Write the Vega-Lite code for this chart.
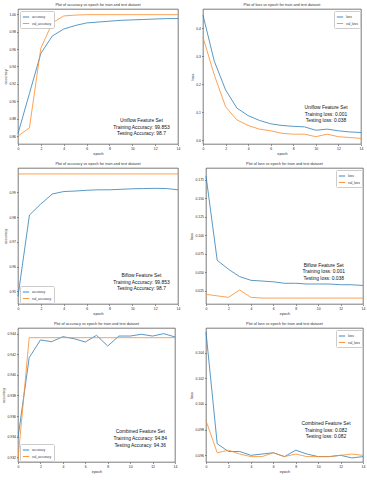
{
  "$schema": "https://vega.github.io/schema/vega-lite/v6.json",
  "padding": {"left": 1, "top": 2, "right": 3, "bottom": 1},
  "background": "white",
  "columns": 2,
  "align": "none",
  "spacing": {"row": 5, "column": 8},
  "resolve": {"scale": {"color": "independent", "x": "independent", "y": "independent"}, "legend": {"color": "independent"}},
  "config": {
    "font": "Liberation Sans, Arial, sans-serif",
    "view": {"stroke": "#444444", "strokeWidth": 0.7},
    "axis": {"grid": false, "domain": false, "labelFont": "Liberation Sans, Arial, sans-serif", "titleFont": "Liberation Sans, Arial, sans-serif", "labelFontSize": 3.4, "titleFontSize": 3.8, "titleFontWeight": "normal", "tickSize": 1.5, "tickWidth": 0.6, "tickColor": "#444444", "labelColor": "#222222", "titleColor": "#333333", "labelPadding": 1, "titlePadding": 1.5, "labelFlush": false, "labelOverlap": false},
    "title": {"font": "Liberation Sans, Arial, sans-serif", "fontSize": 3.8, "fontWeight": "normal", "offset": 2, "color": "#333333"},
    "legend": {"labelFont": "Liberation Sans, Arial, sans-serif", "symbolType": "stroke", "symbolSize": 40, "symbolStrokeWidth": 0.9, "labelFontSize": 3.3, "padding": 2, "rowPadding": 0.5, "strokeColor": "#cccccc", "fillColor": "white", "offset": 1.5, "labelOffset": 2, "cornerRadius": 1, "labelColor": "#333333"}
  },
  "datasets": {
    "uniflow_acc": [
      {"epoch": 0, "series": "accuracy", "value": 0.863}, {"epoch": 1, "series": "accuracy", "value": 0.909}, {"epoch": 2, "series": "accuracy", "value": 0.955}, {"epoch": 3, "series": "accuracy", "value": 0.975}, {"epoch": 4, "series": "accuracy", "value": 0.983}, {"epoch": 5, "series": "accuracy", "value": 0.987}, {"epoch": 6, "series": "accuracy", "value": 0.990}, {"epoch": 7, "series": "accuracy", "value": 0.991}, {"epoch": 8, "series": "accuracy", "value": 0.992}, {"epoch": 9, "series": "accuracy", "value": 0.993}, {"epoch": 10, "series": "accuracy", "value": 0.9935}, {"epoch": 11, "series": "accuracy", "value": 0.994}, {"epoch": 12, "series": "accuracy", "value": 0.9945}, {"epoch": 13, "series": "accuracy", "value": 0.995}, {"epoch": 14, "series": "accuracy", "value": 0.995},
      {"epoch": 0, "series": "val_accuracy", "value": 0.860}, {"epoch": 1, "series": "val_accuracy", "value": 0.8696}, {"epoch": 2, "series": "val_accuracy", "value": 0.961}, {"epoch": 3, "series": "val_accuracy", "value": 0.990}, {"epoch": 4, "series": "val_accuracy", "value": 0.998}, {"epoch": 5, "series": "val_accuracy", "value": 0.999}, {"epoch": 6, "series": "val_accuracy", "value": 0.9995}, {"epoch": 7, "series": "val_accuracy", "value": 0.9995}, {"epoch": 8, "series": "val_accuracy", "value": 0.9995}, {"epoch": 9, "series": "val_accuracy", "value": 0.9995}, {"epoch": 10, "series": "val_accuracy", "value": 0.9995}, {"epoch": 11, "series": "val_accuracy", "value": 0.9995}, {"epoch": 12, "series": "val_accuracy", "value": 0.9995}, {"epoch": 13, "series": "val_accuracy", "value": 0.9995}, {"epoch": 14, "series": "val_accuracy", "value": 0.9995}
    ],
    "uniflow_loss": [
      {"epoch": 0, "series": "loss", "value": 0.446}, {"epoch": 1, "series": "loss", "value": 0.282}, {"epoch": 2, "series": "loss", "value": 0.18}, {"epoch": 3, "series": "loss", "value": 0.115}, {"epoch": 4, "series": "loss", "value": 0.088}, {"epoch": 5, "series": "loss", "value": 0.071}, {"epoch": 6, "series": "loss", "value": 0.059}, {"epoch": 7, "series": "loss", "value": 0.053}, {"epoch": 8, "series": "loss", "value": 0.050}, {"epoch": 9, "series": "loss", "value": 0.048}, {"epoch": 10, "series": "loss", "value": 0.036}, {"epoch": 11, "series": "loss", "value": 0.040}, {"epoch": 12, "series": "loss", "value": 0.034}, {"epoch": 13, "series": "loss", "value": 0.030}, {"epoch": 14, "series": "loss", "value": 0.028},
      {"epoch": 0, "series": "val_loss", "value": 0.367}, {"epoch": 1, "series": "val_loss", "value": 0.233}, {"epoch": 2, "series": "val_loss", "value": 0.12}, {"epoch": 3, "series": "val_loss", "value": 0.073}, {"epoch": 4, "series": "val_loss", "value": 0.053}, {"epoch": 5, "series": "val_loss", "value": 0.040}, {"epoch": 6, "series": "val_loss", "value": 0.034}, {"epoch": 7, "series": "val_loss", "value": 0.025}, {"epoch": 8, "series": "val_loss", "value": 0.022}, {"epoch": 9, "series": "val_loss", "value": 0.022}, {"epoch": 10, "series": "val_loss", "value": 0.013}, {"epoch": 11, "series": "val_loss", "value": 0.022}, {"epoch": 12, "series": "val_loss", "value": 0.013}, {"epoch": 13, "series": "val_loss", "value": 0.010}, {"epoch": 14, "series": "val_loss", "value": 0.007}
    ],
    "biflow_acc": [
      {"epoch": 0, "series": "accuracy", "value": 0.948}, {"epoch": 1, "series": "accuracy", "value": 0.9808}, {"epoch": 2, "series": "accuracy", "value": 0.9853}, {"epoch": 3, "series": "accuracy", "value": 0.9893}, {"epoch": 4, "series": "accuracy", "value": 0.9903}, {"epoch": 5, "series": "accuracy", "value": 0.9905}, {"epoch": 6, "series": "accuracy", "value": 0.9908}, {"epoch": 7, "series": "accuracy", "value": 0.991}, {"epoch": 8, "series": "accuracy", "value": 0.991}, {"epoch": 9, "series": "accuracy", "value": 0.9912}, {"epoch": 10, "series": "accuracy", "value": 0.9914}, {"epoch": 11, "series": "accuracy", "value": 0.9915}, {"epoch": 12, "series": "accuracy", "value": 0.9916}, {"epoch": 13, "series": "accuracy", "value": 0.9915}, {"epoch": 14, "series": "accuracy", "value": 0.991},
      {"epoch": 0, "series": "val_accuracy", "value": 0.9974}, {"epoch": 1, "series": "val_accuracy", "value": 0.9974}, {"epoch": 2, "series": "val_accuracy", "value": 0.9974}, {"epoch": 3, "series": "val_accuracy", "value": 0.9974}, {"epoch": 4, "series": "val_accuracy", "value": 0.9974}, {"epoch": 5, "series": "val_accuracy", "value": 0.9974}, {"epoch": 6, "series": "val_accuracy", "value": 0.9974}, {"epoch": 7, "series": "val_accuracy", "value": 0.9974}, {"epoch": 8, "series": "val_accuracy", "value": 0.9974}, {"epoch": 9, "series": "val_accuracy", "value": 0.9974}, {"epoch": 10, "series": "val_accuracy", "value": 0.9974}, {"epoch": 11, "series": "val_accuracy", "value": 0.9974}, {"epoch": 12, "series": "val_accuracy", "value": 0.9974}, {"epoch": 13, "series": "val_accuracy", "value": 0.9974}, {"epoch": 14, "series": "val_accuracy", "value": 0.9974}
    ],
    "biflow_loss": [
      {"epoch": 0, "series": "loss", "value": 0.180}, {"epoch": 1, "series": "loss", "value": 0.066}, {"epoch": 2, "series": "loss", "value": 0.054}, {"epoch": 3, "series": "loss", "value": 0.044}, {"epoch": 4, "series": "loss", "value": 0.039}, {"epoch": 5, "series": "loss", "value": 0.038}, {"epoch": 6, "series": "loss", "value": 0.037}, {"epoch": 7, "series": "loss", "value": 0.035}, {"epoch": 8, "series": "loss", "value": 0.035}, {"epoch": 9, "series": "loss", "value": 0.034}, {"epoch": 10, "series": "loss", "value": 0.034}, {"epoch": 11, "series": "loss", "value": 0.034}, {"epoch": 12, "series": "loss", "value": 0.033}, {"epoch": 13, "series": "loss", "value": 0.033}, {"epoch": 14, "series": "loss", "value": 0.032},
      {"epoch": 0, "series": "val_loss", "value": 0.020}, {"epoch": 1, "series": "val_loss", "value": 0.018}, {"epoch": 2, "series": "val_loss", "value": 0.016}, {"epoch": 3, "series": "val_loss", "value": 0.026}, {"epoch": 4, "series": "val_loss", "value": 0.016}, {"epoch": 5, "series": "val_loss", "value": 0.015}, {"epoch": 6, "series": "val_loss", "value": 0.015}, {"epoch": 7, "series": "val_loss", "value": 0.015}, {"epoch": 8, "series": "val_loss", "value": 0.015}, {"epoch": 9, "series": "val_loss", "value": 0.015}, {"epoch": 10, "series": "val_loss", "value": 0.015}, {"epoch": 11, "series": "val_loss", "value": 0.015}, {"epoch": 12, "series": "val_loss", "value": 0.015}, {"epoch": 13, "series": "val_loss", "value": 0.015}, {"epoch": 14, "series": "val_loss", "value": 0.015}
    ],
    "combined_acc": [
      {"epoch": 0, "series": "accuracy", "value": 0.9339}, {"epoch": 1, "series": "accuracy", "value": 0.94167}, {"epoch": 2, "series": "accuracy", "value": 0.94339}, {"epoch": 3, "series": "accuracy", "value": 0.94322}, {"epoch": 4, "series": "accuracy", "value": 0.94371}, {"epoch": 5, "series": "accuracy", "value": 0.94351}, {"epoch": 6, "series": "accuracy", "value": 0.94319}, {"epoch": 7, "series": "accuracy", "value": 0.94384}, {"epoch": 8, "series": "accuracy", "value": 0.9428}, {"epoch": 9, "series": "accuracy", "value": 0.94377}, {"epoch": 10, "series": "accuracy", "value": 0.94377}, {"epoch": 11, "series": "accuracy", "value": 0.94394}, {"epoch": 12, "series": "accuracy", "value": 0.94377}, {"epoch": 13, "series": "accuracy", "value": 0.944}, {"epoch": 14, "series": "accuracy", "value": 0.94368},
      {"epoch": 0, "series": "val_accuracy", "value": 0.9318}, {"epoch": 1, "series": "val_accuracy", "value": 0.94361}, {"epoch": 2, "series": "val_accuracy", "value": 0.94361}, {"epoch": 3, "series": "val_accuracy", "value": 0.94361}, {"epoch": 4, "series": "val_accuracy", "value": 0.94361}, {"epoch": 5, "series": "val_accuracy", "value": 0.94361}, {"epoch": 6, "series": "val_accuracy", "value": 0.94361}, {"epoch": 7, "series": "val_accuracy", "value": 0.94361}, {"epoch": 8, "series": "val_accuracy", "value": 0.94361}, {"epoch": 9, "series": "val_accuracy", "value": 0.94361}, {"epoch": 10, "series": "val_accuracy", "value": 0.94361}, {"epoch": 11, "series": "val_accuracy", "value": 0.94361}, {"epoch": 12, "series": "val_accuracy", "value": 0.94361}, {"epoch": 13, "series": "val_accuracy", "value": 0.94361}, {"epoch": 14, "series": "val_accuracy", "value": 0.94361}
    ],
    "combined_loss": [
      {"epoch": 0, "series": "loss", "value": 0.1056}, {"epoch": 1, "series": "loss", "value": 0.0969}, {"epoch": 2, "series": "loss", "value": 0.0963}, {"epoch": 3, "series": "loss", "value": 0.0963}, {"epoch": 4, "series": "loss", "value": 0.0960}, {"epoch": 5, "series": "loss", "value": 0.0961}, {"epoch": 6, "series": "loss", "value": 0.0962}, {"epoch": 7, "series": "loss", "value": 0.0959}, {"epoch": 8, "series": "loss", "value": 0.0964}, {"epoch": 9, "series": "loss", "value": 0.0961}, {"epoch": 10, "series": "loss", "value": 0.0959}, {"epoch": 11, "series": "loss", "value": 0.0959}, {"epoch": 12, "series": "loss", "value": 0.0960}, {"epoch": 13, "series": "loss", "value": 0.0958}, {"epoch": 14, "series": "loss", "value": 0.0959},
      {"epoch": 0, "series": "val_loss", "value": 0.0987}, {"epoch": 1, "series": "val_loss", "value": 0.0962}, {"epoch": 2, "series": "val_loss", "value": 0.0964}, {"epoch": 3, "series": "val_loss", "value": 0.0961}, {"epoch": 4, "series": "val_loss", "value": 0.0959}, {"epoch": 5, "series": "val_loss", "value": 0.0959}, {"epoch": 6, "series": "val_loss", "value": 0.0962}, {"epoch": 7, "series": "val_loss", "value": 0.0959}, {"epoch": 8, "series": "val_loss", "value": 0.0961}, {"epoch": 9, "series": "val_loss", "value": 0.0959}, {"epoch": 10, "series": "val_loss", "value": 0.0959}, {"epoch": 11, "series": "val_loss", "value": 0.0959}, {"epoch": 12, "series": "val_loss", "value": 0.0960}, {"epoch": 13, "series": "val_loss", "value": 0.0961}, {"epoch": 14, "series": "val_loss", "value": 0.0960}
    ]
  },
  "concat": [
    {
      "width": 160, "height": 135,
      "title": "Plot of accuracy vs epoch for train and test dataset",
      "layer": [
        {"data": {"name": "uniflow_acc"}, "mark": {"type": "line", "strokeWidth": 0.8},
         "encoding": {
           "x": {"field": "epoch", "type": "quantitative", "scale": {"domain": [0, 14], "nice": false}, "axis": {"values": [0, 2, 4, 6, 8, 10, 12, 14], "tickCount": 30, "format": "d", "title": "epoch", "labelOverlap": false}},
           "y": {"field": "value", "type": "quantitative", "scale": {"domain": [0.851, 1.006], "nice": false, "zero": false}, "axis": {"values": [0.86, 0.88, 0.90, 0.92, 0.94, 0.96, 0.98, 1.0], "tickCount": 30, "format": ".2f", "title": "accuracy", "labelOverlap": false}},
           "color": {"field": "series", "type": "nominal", "scale": {"range": ["#2f7fb8", "#fb8c2a"]}, "legend": {"orient": "top-left", "title": null}}
         }},
        {"data": {"values": [{}]}, "mark": {"type": "text", "align": "center", "baseline": "top", "fontSize": 4.9, "lineHeight": 6.7, "font": "Liberation Sans, Arial, sans-serif", "color": "#111111"},
         "encoding": {"x": {"datum": 10.8}, "y": {"datum": 0.881}, "text": {"value": ["Uniflow Feature Set", "Training Accuracy: 99.853", "Testing Accuracy: 98.7"]}}}
      ]
    },
    {
      "width": 158, "height": 135,
      "title": "Plot of loss vs epoch for train and test dataset",
      "layer": [
        {"data": {"name": "uniflow_loss"}, "mark": {"type": "line", "strokeWidth": 0.8},
         "encoding": {
           "x": {"field": "epoch", "type": "quantitative", "scale": {"domain": [0, 14], "nice": false}, "axis": {"values": [0, 2, 4, 6, 8, 10, 12, 14], "tickCount": 30, "format": "d", "title": "epoch", "labelOverlap": false}},
           "y": {"field": "value", "type": "quantitative", "scale": {"domain": [-0.013, 0.468], "nice": false, "zero": false}, "axis": {"values": [0, 0.1, 0.2, 0.3, 0.4], "tickCount": 30, "format": ".1f", "title": "loss", "labelOverlap": false}},
           "color": {"field": "series", "type": "nominal", "scale": {"range": ["#2f7fb8", "#fb8c2a"]}, "legend": {"orient": "top-right", "title": null}}
         }},
        {"data": {"values": [{}]}, "mark": {"type": "text", "align": "center", "baseline": "top", "fontSize": 4.9, "lineHeight": 6.7, "font": "Liberation Sans, Arial, sans-serif", "color": "#111111"},
         "encoding": {"x": {"datum": 10.9}, "y": {"datum": 0.126}, "text": {"value": ["Uniflow Feature Set", "Training loss: 0.001", "Testing loss: 0.038"]}}}
      ]
    },
    {
      "width": 160, "height": 136,
      "title": "Plot of accuracy vs epoch for train and test dataset",
      "layer": [
        {"data": {"name": "biflow_acc"}, "mark": {"type": "line", "strokeWidth": 0.8},
         "encoding": {
           "x": {"field": "epoch", "type": "quantitative", "scale": {"domain": [0, 14], "nice": false}, "axis": {"values": [0, 2, 4, 6, 8, 10, 12, 14], "tickCount": 30, "format": "d", "title": "epoch", "labelOverlap": false}},
           "y": {"field": "value", "type": "quantitative", "scale": {"domain": [0.9449, 0.9998], "nice": false, "zero": false}, "axis": {"values": [0.95, 0.96, 0.97, 0.98, 0.99], "tickCount": 30, "format": ".2f", "title": "accuracy", "labelOverlap": false}},
           "color": {"field": "series", "type": "nominal", "scale": {"range": ["#2f7fb8", "#fb8c2a"]}, "legend": {"orient": "bottom-left", "title": null}}
         }},
        {"data": {"values": [{}]}, "mark": {"type": "text", "align": "center", "baseline": "top", "fontSize": 4.9, "lineHeight": 6.7, "font": "Liberation Sans, Arial, sans-serif", "color": "#111111"},
         "encoding": {"x": {"datum": 10.8}, "y": {"datum": 0.9574}, "text": {"value": ["Biflow Feature Set", "Training Accuracy: 99.853", "Testing Accuracy: 98.7"]}}}
      ]
    },
    {
      "width": 157, "height": 136,
      "title": "Plot of loss vs epoch for train and test dataset",
      "layer": [
        {"data": {"name": "biflow_loss"}, "mark": {"type": "line", "strokeWidth": 0.8},
         "encoding": {
           "x": {"field": "epoch", "type": "quantitative", "scale": {"domain": [0, 14], "nice": false}, "axis": {"values": [0, 2, 4, 6, 8, 10, 12, 14], "tickCount": 30, "format": "d", "title": "epoch", "labelOverlap": false}},
           "y": {"field": "value", "type": "quantitative", "scale": {"domain": [0.007, 0.1907], "nice": false, "zero": false}, "axis": {"values": [0.025, 0.05, 0.075, 0.1, 0.125, 0.15, 0.175], "tickCount": 30, "format": ".3f", "title": "loss", "labelOverlap": false}},
           "color": {"field": "series", "type": "nominal", "scale": {"range": ["#2f7fb8", "#fb8c2a"]}, "legend": {"orient": "top-right", "title": null}}
         }},
        {"data": {"values": [{}]}, "mark": {"type": "text", "align": "center", "baseline": "top", "fontSize": 4.9, "lineHeight": 6.7, "font": "Liberation Sans, Arial, sans-serif", "color": "#111111"},
         "encoding": {"x": {"datum": 10.5}, "y": {"datum": 0.063}, "text": {"value": ["Biflow  Feature Set", "Training loss: 0.001", "Testing loss: 0.038"]}}}
      ]
    },
    {
      "width": 157, "height": 134,
      "title": "Plot of accuracy vs epoch for train and test dataset",
      "layer": [
        {"data": {"name": "combined_acc"}, "mark": {"type": "line", "strokeWidth": 0.8},
         "encoding": {
           "x": {"field": "epoch", "type": "quantitative", "scale": {"domain": [0, 14], "nice": false}, "axis": {"values": [0, 2, 4, 6, 8, 10, 12, 14], "tickCount": 30, "format": "d", "title": "epoch", "labelOverlap": false}},
           "y": {"field": "value", "type": "quantitative", "scale": {"domain": [0.93154, 0.94455], "nice": false, "zero": false}, "axis": {"values": [0.932, 0.934, 0.936, 0.938, 0.94, 0.942, 0.944], "tickCount": 30, "format": ".3f", "title": "accuracy", "labelOverlap": false}},
           "color": {"field": "series", "type": "nominal", "scale": {"range": ["#2f7fb8", "#fb8c2a"]}, "legend": {"orient": "bottom-left", "title": null}}
         }},
        {"data": {"values": [{}]}, "mark": {"type": "text", "align": "center", "baseline": "top", "fontSize": 4.9, "lineHeight": 6.7, "font": "Liberation Sans, Arial, sans-serif", "color": "#111111"},
         "encoding": {"x": {"datum": 10.9}, "y": {"datum": 0.9347}, "text": {"value": ["Combined Feature Set", "Training Accuracy: 94.84", "Testing Accuracy: 94.36"]}}}
      ]
    },
    {
      "width": 157, "height": 134,
      "title": "Plot of loss vs epoch for train and test dataset",
      "layer": [
        {"data": {"name": "combined_loss"}, "mark": {"type": "line", "strokeWidth": 0.8},
         "encoding": {
           "x": {"field": "epoch", "type": "quantitative", "scale": {"domain": [0, 14], "nice": false}, "axis": {"values": [0, 2, 4, 6, 8, 10, 12, 14], "tickCount": 30, "format": "d", "title": "epoch", "labelOverlap": false}},
           "y": {"field": "value", "type": "quantitative", "scale": {"domain": [0.09548, 0.10592], "nice": false, "zero": false}, "axis": {"values": [0.096, 0.098, 0.1, 0.102, 0.104], "tickCount": 30, "format": ".3f", "title": "loss", "labelOverlap": false}},
           "color": {"field": "series", "type": "nominal", "scale": {"range": ["#2f7fb8", "#fb8c2a"]}, "legend": {"orient": "top-right", "title": null}}
         }},
        {"data": {"values": [{}]}, "mark": {"type": "text", "align": "center", "baseline": "top", "fontSize": 4.9, "lineHeight": 6.7, "font": "Liberation Sans, Arial, sans-serif", "color": "#111111"},
         "encoding": {"x": {"datum": 10.7}, "y": {"datum": 0.09867}, "text": {"value": ["Combined  Feature Set", "Training loss: 0.082", "Testing loss: 0.082"]}}}
      ]
    }
  ]
}
